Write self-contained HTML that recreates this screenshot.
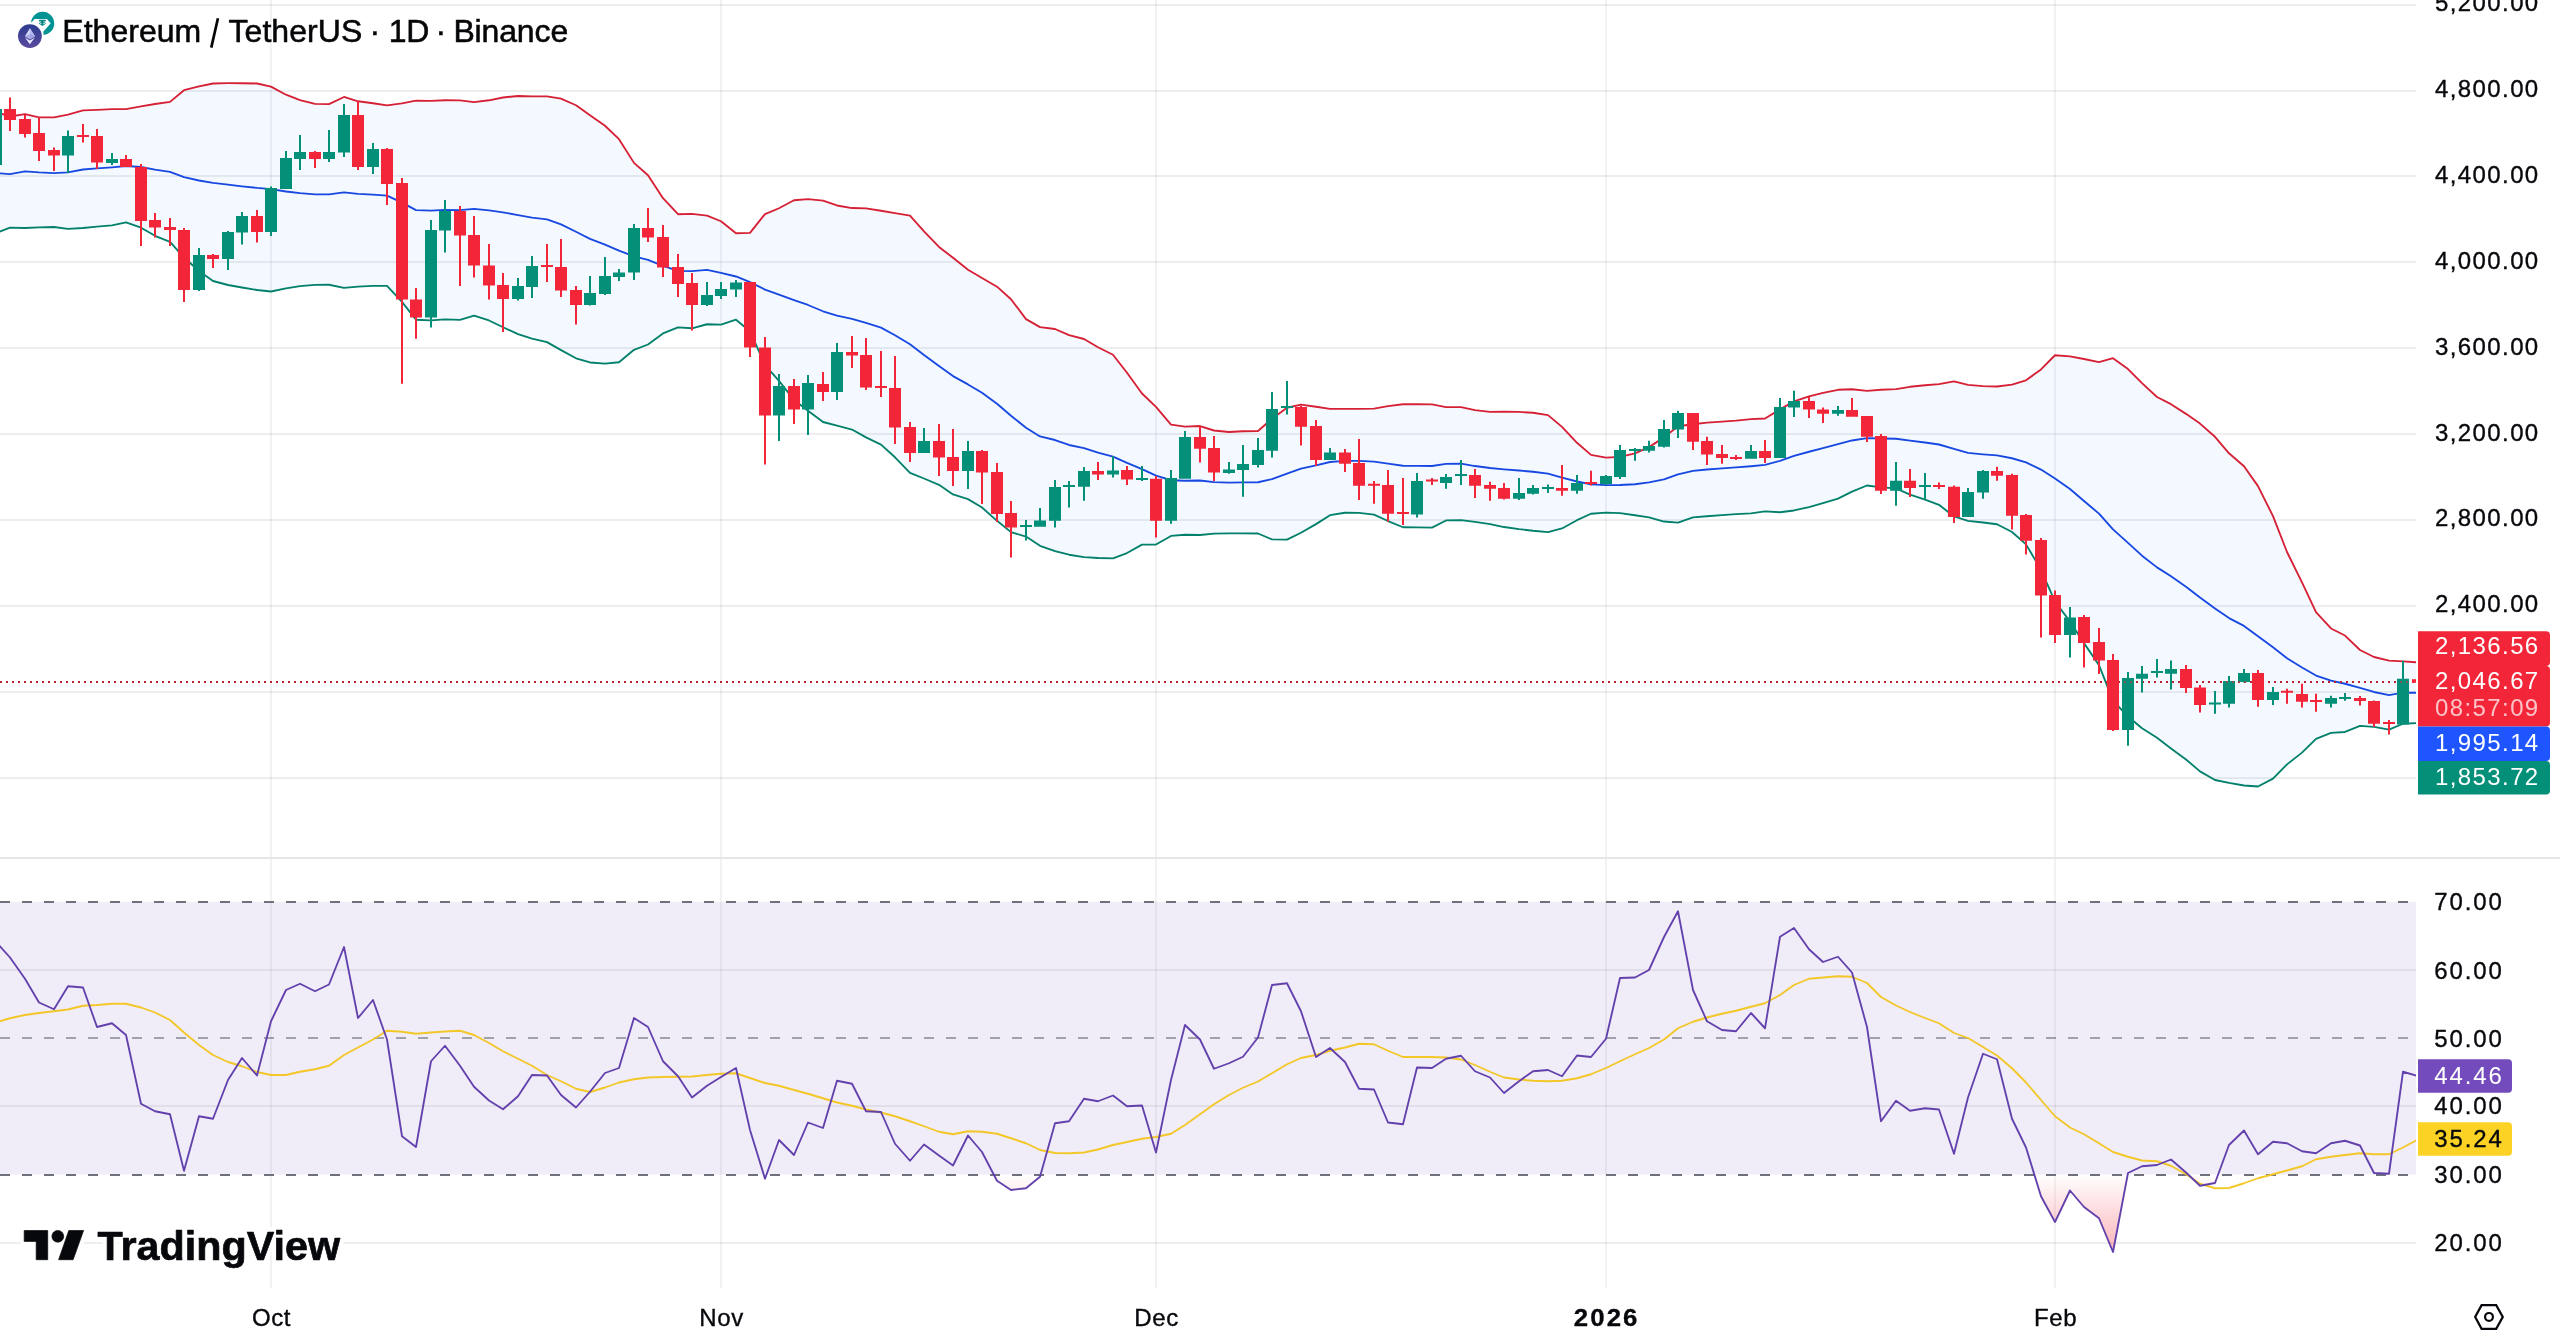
<!DOCTYPE html>
<html><head><meta charset="utf-8"><title>ETHUSDT chart</title>
<style>html,body{margin:0;padding:0;background:#fff}body{width:2560px;height:1336px;overflow:hidden}svg{display:block;will-change:transform}text{font-family:"Liberation Sans",sans-serif}</style>
</head><body>
<svg width="2560" height="1336" viewBox="0 0 2560 1336">
<defs>
<clipPath id="plot"><rect x="0" y="0" width="2416" height="857"/></clipPath>
<clipPath id="rplot"><rect x="0" y="859" width="2416" height="429"/></clipPath>
<clipPath id="below30"><rect x="0" y="1174.5" width="2416" height="120"/></clipPath>
<clipPath id="above70"><rect x="0" y="859" width="2416" height="42.75"/></clipPath>
<linearGradient id="os" gradientUnits="userSpaceOnUse" x1="0" y1="1174.5" x2="0" y2="1379"><stop offset="0" stop-color="#F23645" stop-opacity="0"/><stop offset="1" stop-color="#F23645" stop-opacity="1"/></linearGradient>
<linearGradient id="eth" x1="0" y1="0" x2="0" y2="1"><stop offset="0" stop-color="#2B3C8F"/><stop offset="1" stop-color="#5B4A9E"/></linearGradient>
</defs>
<rect width="2560" height="1336" fill="#fff"/>
<g stroke="#000" stroke-opacity="0.067" stroke-width="2" shape-rendering="crispEdges">
<line x1="0" y1="5" x2="2416" y2="5"/>
<line x1="0" y1="91" x2="2416" y2="91"/>
<line x1="0" y1="176" x2="2416" y2="176"/>
<line x1="0" y1="262" x2="2416" y2="262"/>
<line x1="0" y1="348" x2="2416" y2="348"/>
<line x1="0" y1="434" x2="2416" y2="434"/>
<line x1="0" y1="520" x2="2416" y2="520"/>
<line x1="0" y1="606" x2="2416" y2="606"/>
<line x1="0" y1="692" x2="2416" y2="692"/>
<line x1="0" y1="778" x2="2416" y2="778"/>
<line x1="271" y1="0" x2="271" y2="1288" stroke-opacity="0.05"/>
<line x1="721" y1="0" x2="721" y2="1288" stroke-opacity="0.05"/>
<line x1="1156" y1="0" x2="1156" y2="1288" stroke-opacity="0.05"/>
<line x1="1606" y1="0" x2="1606" y2="1288" stroke-opacity="0.05"/>
<line x1="2055" y1="0" x2="2055" y2="1288" stroke-opacity="0.05"/>
<line x1="0" y1="970" x2="2416" y2="970"/>
<line x1="0" y1="1106" x2="2416" y2="1106"/>
<line x1="0" y1="1243" x2="2416" y2="1243"/>
</g>
<rect x="0" y="857" width="2560" height="2" fill="#E6E6E6"/>
<g clip-path="url(#plot)">
<polygon points="-19,109 -4,112 10,116.5 25,114.2 39,117.4 54,117.4 68,114.7 83,110.4 97,109.8 112,109.1 126,109.1 141,106.4 155,104 170,101.9 184,90.2 199,86.4 213,83.5 228,83.2 242,83.2 257,83.5 271,86.68 286,94.72 300,100.12 315,103.94 329,104.09 344,96.99 358,101.29 373,103.22 387,105.33 402,103.43 416,100.62 431,100.82 445,100.27 460,100.32 474,102.18 489,100.29 503,97.49 518,96.01 532,96.45 547,96.43 561,98.69 576,105.25 590,115.18 605,125.71 619,139.15 634,162.88 648,175.25 663,198.17 678,214.21 692,213.88 707,215.64 721,221.25 736,233.25 750,232.92 765,214.1 779,208.27 794,200.29 808,199.12 823,200.56 837,205.48 852,208.04 866,208.45 881,210.73 895,213.15 910,215.55 924,231.29 939,246.97 953,257.74 968,269.75 982,278.08 997,286.68 1011,299.2 1026,319.08 1040,327.13 1055,329.02 1069,335.22 1084,339 1098,347.26 1113,354.72 1127,372.79 1142,393.47 1156,406.87 1171,424.54 1185,426.68 1200,426.01 1214,430.5 1229,431.98 1243,431.22 1258,431.04 1272,418.78 1287,407.77 1301,404.57 1316,406.71 1330,408.85 1345,408.92 1359,408.89 1374,408.67 1388,406.15 1403,404.29 1417,404.29 1432,404.31 1446,407.15 1461,407.12 1475,410.16 1490,411.91 1504,411.66 1519,411.92 1533,412.72 1548,415.1 1562,426.89 1577,442.82 1591,454.92 1606,457.6 1620,456.87 1635,453.31 1649,447.14 1664,437.39 1678,426.29 1693,424.28 1707,422.69 1722,421.59 1736,420.68 1751,419.1 1765,418.46 1780,409.37 1794,401.36 1809,396.4 1823,392.95 1838,389.78 1852,389.28 1867,390.83 1881,389.72 1896,389.19 1910,386.79 1925,385.29 1939,384.15 1954,381.31 1968,384.89 1983,386.11 1997,386.53 2012,384.55 2026,380.34 2041,369.4 2055,355.27 2070,356.4 2084,358.99 2099,362.08 2113,358.16 2128,369.11 2142,383.15 2157,396.95 2171,404.19 2186,413.86 2200,423.6 2215,436.79 2229,453.29 2244,466.28 2258,486.11 2273,516.11 2287,552.01 2302,582.35 2316,612.2 2331,628.45 2345,635.55 2360,650.04 2374,657 2389,660.68 2403,661.41 2418,662.4 2418,723 2403,723.74 2389,729.59 2374,726.95 2360,725.83 2345,731.97 2331,732.88 2316,738.88 2302,752.63 2287,764.36 2273,778.59 2258,786.49 2244,785.52 2229,782.91 2215,779.98 2200,771.42 2186,759.47 2171,748.41 2157,737.82 2142,728.2 2128,716.54 2113,700.69 2099,665.15 2084,643.14 2070,621.53 2055,601.6 2041,569.77 2026,544.38 2012,531.97 1997,524.22 1983,522.52 1968,520.81 1954,516.49 1939,504.85 1925,499.64 1910,494.54 1896,488.33 1881,487.33 1867,485.5 1852,491.67 1838,498.57 1823,503.1 1809,507.08 1794,510.47 1780,512.23 1765,511.31 1751,513.45 1736,514.17 1722,515.08 1707,516.29 1693,517.34 1678,522.56 1664,521.53 1649,517.46 1635,515.26 1620,513.18 1606,512.7 1591,513.78 1577,520.21 1562,528.44 1548,532.05 1533,530.73 1519,529.13 1504,527.04 1490,524.16 1475,521.92 1461,520.08 1446,520.45 1432,527.67 1417,527.38 1403,527.24 1388,521.03 1374,514.58 1359,512.88 1345,512.78 1330,515.17 1316,524.11 1301,532.76 1287,539.63 1272,539.42 1258,533.51 1243,533.43 1229,533.37 1214,533.65 1200,534.99 1185,534.74 1171,535.94 1156,544.56 1142,544.63 1127,553.06 1113,558.38 1098,557.99 1084,557.1 1069,554.73 1055,551.03 1040,545.77 1026,536.52 1011,532.15 997,520.82 982,507.52 968,499.1 953,494.41 939,484.83 924,478.51 910,472.95 895,457.3 881,444.57 866,437.4 852,429.56 837,425.62 823,421.99 808,410.83 794,399.96 779,380.93 765,365.05 750,331.23 736,319.7 721,324.55 707,324.26 692,328.27 678,327.39 663,333.43 648,344.5 634,349.82 619,362.25 605,363.64 590,362.47 576,358.3 561,350.16 547,342.17 532,338.7 518,334.14 503,327.26 489,320.46 474,315.52 460,319.83 445,319.33 431,320.43 416,319.73 402,301.87 387,285.92 373,285.88 358,286.61 344,287.81 329,284.76 315,284.81 300,286.13 286,288.33 271,291.47 257,290 242,287.5 228,285 213,281 199,271 184,257.5 170,241.8 155,235.8 141,227.7 126,222.3 112,225.3 97,226.6 83,228 68,228.8 54,227 39,227.4 25,228 10,227.7 -4,233 -19,238" fill="#2196F3" fill-opacity="0.055"/>
<polyline points="-19,172.6 -4,173.1 10,174.2 25,171.3 39,172.4 54,173.1 68,172.4 83,169.5 97,168.4 112,167.3 126,166 141,167 155,169.7 170,171.8 184,177.1 199,180.5 213,182.9 228,184.6 242,186.3 257,187.9 271,189.07 286,191.53 300,193.12 315,194.38 329,194.43 344,192.4 358,193.95 373,194.55 387,195.62 402,202.65 416,210.18 431,210.62 445,209.8 460,210.07 474,208.85 489,210.38 503,212.38 518,215.07 532,217.57 547,219.3 561,224.43 576,231.78 590,238.82 605,244.68 619,250.7 634,256.35 648,259.88 663,265.8 678,270.8 692,271.07 707,269.95 721,272.9 736,276.48 750,282.07 765,289.57 779,294.6 794,300.12 808,304.98 823,311.27 837,315.55 852,318.8 866,322.93 881,327.65 895,335.23 910,344.25 924,354.9 939,365.9 953,376.07 968,384.43 982,392.8 997,403.75 1011,415.68 1026,427.8 1040,436.45 1055,440.02 1069,444.98 1084,448.05 1098,452.62 1113,456.55 1127,462.93 1142,469.05 1156,475.71 1171,480.24 1185,480.71 1200,480.5 1214,482.07 1229,482.68 1243,482.32 1258,482.27 1272,479.1 1287,473.7 1301,468.66 1316,465.41 1330,462.01 1345,460.85 1359,460.89 1374,461.62 1388,463.59 1403,465.76 1417,465.84 1432,465.99 1446,463.8 1461,463.6 1475,466.04 1490,468.04 1504,469.35 1519,470.52 1533,471.73 1548,473.57 1562,477.66 1577,481.51 1591,484.35 1606,485.15 1620,485.02 1635,484.29 1649,482.3 1664,479.46 1678,474.43 1693,470.81 1707,469.49 1722,468.34 1736,467.43 1751,466.27 1765,464.89 1780,460.8 1794,455.91 1809,451.74 1823,448.02 1838,444.18 1852,440.48 1867,438.16 1881,438.52 1896,438.76 1910,440.66 1925,442.46 1939,444.5 1954,448.9 1968,452.85 1983,454.31 1997,455.38 2012,458.26 2026,462.36 2041,469.59 2055,478.44 2070,488.96 2084,501.06 2099,513.61 2113,529.42 2128,542.83 2142,555.67 2157,567.39 2171,576.3 2186,586.66 2200,597.51 2215,608.39 2229,618.1 2244,625.9 2258,636.3 2273,647.35 2287,658.19 2302,667.49 2316,675.54 2331,680.66 2345,683.76 2360,687.94 2374,691.98 2389,695.14 2403,692.58 2418,692.8" fill="none" stroke="#1848E2" stroke-width="1.85" stroke-linejoin="round"/>
<polyline points="-19,109 -4,112 10,116.5 25,114.2 39,117.4 54,117.4 68,114.7 83,110.4 97,109.8 112,109.1 126,109.1 141,106.4 155,104 170,101.9 184,90.2 199,86.4 213,83.5 228,83.2 242,83.2 257,83.5 271,86.68 286,94.72 300,100.12 315,103.94 329,104.09 344,96.99 358,101.29 373,103.22 387,105.33 402,103.43 416,100.62 431,100.82 445,100.27 460,100.32 474,102.18 489,100.29 503,97.49 518,96.01 532,96.45 547,96.43 561,98.69 576,105.25 590,115.18 605,125.71 619,139.15 634,162.88 648,175.25 663,198.17 678,214.21 692,213.88 707,215.64 721,221.25 736,233.25 750,232.92 765,214.1 779,208.27 794,200.29 808,199.12 823,200.56 837,205.48 852,208.04 866,208.45 881,210.73 895,213.15 910,215.55 924,231.29 939,246.97 953,257.74 968,269.75 982,278.08 997,286.68 1011,299.2 1026,319.08 1040,327.13 1055,329.02 1069,335.22 1084,339 1098,347.26 1113,354.72 1127,372.79 1142,393.47 1156,406.87 1171,424.54 1185,426.68 1200,426.01 1214,430.5 1229,431.98 1243,431.22 1258,431.04 1272,418.78 1287,407.77 1301,404.57 1316,406.71 1330,408.85 1345,408.92 1359,408.89 1374,408.67 1388,406.15 1403,404.29 1417,404.29 1432,404.31 1446,407.15 1461,407.12 1475,410.16 1490,411.91 1504,411.66 1519,411.92 1533,412.72 1548,415.1 1562,426.89 1577,442.82 1591,454.92 1606,457.6 1620,456.87 1635,453.31 1649,447.14 1664,437.39 1678,426.29 1693,424.28 1707,422.69 1722,421.59 1736,420.68 1751,419.1 1765,418.46 1780,409.37 1794,401.36 1809,396.4 1823,392.95 1838,389.78 1852,389.28 1867,390.83 1881,389.72 1896,389.19 1910,386.79 1925,385.29 1939,384.15 1954,381.31 1968,384.89 1983,386.11 1997,386.53 2012,384.55 2026,380.34 2041,369.4 2055,355.27 2070,356.4 2084,358.99 2099,362.08 2113,358.16 2128,369.11 2142,383.15 2157,396.95 2171,404.19 2186,413.86 2200,423.6 2215,436.79 2229,453.29 2244,466.28 2258,486.11 2273,516.11 2287,552.01 2302,582.35 2316,612.2 2331,628.45 2345,635.55 2360,650.04 2374,657 2389,660.68 2403,661.41 2418,662.4" fill="none" stroke="#D62035" stroke-width="1.85" stroke-linejoin="round"/>
<polyline points="-19,238 -4,233 10,227.7 25,228 39,227.4 54,227 68,228.8 83,228 97,226.6 112,225.3 126,222.3 141,227.7 155,235.8 170,241.8 184,257.5 199,271 213,281 228,285 242,287.5 257,290 271,291.47 286,288.33 300,286.13 315,284.81 329,284.76 344,287.81 358,286.61 373,285.88 387,285.92 402,301.87 416,319.73 431,320.43 445,319.33 460,319.83 474,315.52 489,320.46 503,327.26 518,334.14 532,338.7 547,342.17 561,350.16 576,358.3 590,362.47 605,363.64 619,362.25 634,349.82 648,344.5 663,333.43 678,327.39 692,328.27 707,324.26 721,324.55 736,319.7 750,331.23 765,365.05 779,380.93 794,399.96 808,410.83 823,421.99 837,425.62 852,429.56 866,437.4 881,444.57 895,457.3 910,472.95 924,478.51 939,484.83 953,494.41 968,499.1 982,507.52 997,520.82 1011,532.15 1026,536.52 1040,545.77 1055,551.03 1069,554.73 1084,557.1 1098,557.99 1113,558.38 1127,553.06 1142,544.63 1156,544.56 1171,535.94 1185,534.74 1200,534.99 1214,533.65 1229,533.37 1243,533.43 1258,533.51 1272,539.42 1287,539.63 1301,532.76 1316,524.11 1330,515.17 1345,512.78 1359,512.88 1374,514.58 1388,521.03 1403,527.24 1417,527.38 1432,527.67 1446,520.45 1461,520.08 1475,521.92 1490,524.16 1504,527.04 1519,529.13 1533,530.73 1548,532.05 1562,528.44 1577,520.21 1591,513.78 1606,512.7 1620,513.18 1635,515.26 1649,517.46 1664,521.53 1678,522.56 1693,517.34 1707,516.29 1722,515.08 1736,514.17 1751,513.45 1765,511.31 1780,512.23 1794,510.47 1809,507.08 1823,503.1 1838,498.57 1852,491.67 1867,485.5 1881,487.33 1896,488.33 1910,494.54 1925,499.64 1939,504.85 1954,516.49 1968,520.81 1983,522.52 1997,524.22 2012,531.97 2026,544.38 2041,569.77 2055,601.6 2070,621.53 2084,643.14 2099,665.15 2113,700.69 2128,716.54 2142,728.2 2157,737.82 2171,748.41 2186,759.47 2200,771.42 2215,779.98 2229,782.91 2244,785.52 2258,786.49 2273,778.59 2287,764.36 2302,752.63 2316,738.88 2331,732.88 2345,731.97 2360,725.83 2374,726.95 2389,729.59 2403,723.74 2418,723" fill="none" stroke="#02806B" stroke-width="1.85" stroke-linejoin="round"/>
<line x1="0" y1="682" x2="2416" y2="682" stroke="#B8232F" stroke-width="2" stroke-dasharray="2 4"/>
<path d="M-5 100h2V170h-2zM-10 109h12v56h-12zM67 130.5h2V173h-2zM62 136h12v19.5h-12zM111 153h2V165h-2zM106 159h12v4h-12zM198 248h2V291h-2zM193 255h12v35h-12zM227 231h2V270h-2zM222 232h12v27h-12zM241 212h2V244.5h-2zM236 216h12v16.5h-12zM270 186.5h2V236h-2zM265 188h12v44h-12zM285 151h2V189h-2zM280 158h12v31h-12zM299 135h2V170h-2zM294 152h12v7h-12zM328 130h2V162h-2zM323 152h12v7h-12zM343 104h2V157h-2zM338 115h12v37.5h-12zM372 143h2V174h-2zM367 149h12v18h-12zM430 220h2V327.5h-2zM425 230h12v87.5h-12zM444 200h2V252.5h-2zM439 211h12v19.5h-12zM517 278h2V300.5h-2zM512 286h12v13h-12zM531 256h2V298h-2zM526 266h12v21h-12zM589 276h2V305.5h-2zM584 293h12v12h-12zM604 257h2V295h-2zM599 276h12v18h-12zM618 269h2V281h-2zM613 272.5h12v4.5h-12zM633 224h2V280h-2zM628 228h12v44.5h-12zM706 282h2V306h-2zM701 295h12v10h-12zM720 282h2V299h-2zM715 289h12v7h-12zM735 280h2V297h-2zM730 282.5h12v7h-12zM778 374h2V441h-2zM773 386h12v29.5h-12zM807 375h2V435h-2zM802 383h12v26.5h-12zM836 343h2V400h-2zM831 352h12v40h-12zM923 428h2V453h-2zM918 441h12v12h-12zM967 441h2V489h-2zM962 451h12v20h-12zM1025 520h2V540.5h-2zM1020 525h12v2h-12zM1039 508h2V526.75h-2zM1034 520.5h12v6.25h-12zM1054 480h2V527.5h-2zM1049 487h12v33.75h-12zM1068 481h2V507.5h-2zM1063 485h12v2h-12zM1083 467h2V500.75h-2zM1078 471h12v15.75h-12zM1112 456h2V477.5h-2zM1107 470.5h12v4h-12zM1141 466h2V481h-2zM1136 478h12v2h-12zM1170 470h2V523.75h-2zM1165 478h12v42.75h-12zM1184 431h2V478.75h-2zM1179 437h12v41.75h-12zM1228 462h2V473.75h-2zM1223 469.5h12v3.5h-12zM1242 445h2V496.75h-2zM1237 464h12v6h-12zM1257 438h2V467.5h-2zM1252 450h12v15h-12zM1271 392h2V457.5h-2zM1266 409h12v41.75h-12zM1286 381h2V414.5h-2zM1281 406h12v2h-12zM1329 448h2V460h-2zM1324 452.5h12v7.5h-12zM1416 473h2V517.5h-2zM1411 481h12v33.5h-12zM1445 474h2V488.75h-2zM1440 477h12v6h-12zM1460 460h2V485h-2zM1455 474h12v2h-12zM1518 478h2V500h-2zM1513 493h12v5.75h-12zM1532 485h2V494.5h-2zM1527 488h12v5.75h-12zM1547 484.5h2V493h-2zM1542 487h12v2h-12zM1576 475h2V493.75h-2zM1571 483h12v7.75h-12zM1605 475h2V485h-2zM1600 476h12v8h-12zM1619 445h2V479h-2zM1614 450h12v27h-12zM1634 448h2V460.75h-2zM1629 449h12v2h-12zM1648 440.75h2V452.5h-2zM1643 446h12v4.75h-12zM1663 420h2V447.5h-2zM1658 429h12v17.75h-12zM1677 410.75h2V438h-2zM1672 413h12v16.5h-12zM1750 445h2V458.75h-2zM1745 451h12v7.75h-12zM1779 398h2V458h-2zM1774 407h12v51h-12zM1793 390.75h2V417h-2zM1788 401h12v6.5h-12zM1837 406h2V415.75h-2zM1832 410h12v3.75h-12zM1895 462h2V505.75h-2zM1890 480.75h12v10h-12zM1924 473h2V499.5h-2zM1919 485h12v2h-12zM1967 488h2V517h-2zM1962 492h12v25h-12zM1982 470h2V498.75h-2zM1977 471h12v21.5h-12zM2069 607h2V657.5h-2zM2064 617.5h12v17.5h-12zM2127 672h2V745.75h-2zM2122 678h12v52h-12zM2141 666h2V692.5h-2zM2136 673.75h12v5h-12zM2156 659h2V677.5h-2zM2151 671h12v2h-12zM2170 660.5h2V689.5h-2zM2165 669h12v4.75h-12zM2214 691h2V713.75h-2zM2209 702.5h12v2h-12zM2228 676h2V707.5h-2zM2223 681h12v22.75h-12zM2243 669h2V682.5h-2zM2238 673h12v9h-12zM2272 687h2V705h-2zM2267 692h12v8h-12zM2330 695.75h2V707.5h-2zM2325 698h12v5.75h-12zM2344 693h2V700.75h-2zM2339 697h12v2h-12zM2402 660.75h2V724.5h-2zM2397 678.75h12v45.75h-12z" fill="#048F78"/>
<path d="M9 97.5h2V131h-2zM4 109h12v11h-12zM24 115h2V137.5h-2zM19 119h12v15h-12zM38 117.5h2V161h-2zM33 133h12v18h-12zM53 147.5h2V171h-2zM48 150h12v5.5h-12zM82 124h2V142.5h-2zM77 135h12v2h-12zM96 129h2V169h-2zM91 136h12v26.5h-12zM125 155h2V167h-2zM120 159h12v8h-12zM140 164h2V246h-2zM135 167h12v54h-12zM154 213h2V237.5h-2zM149 220h12v7.5h-12zM169 218h2V246h-2zM164 227h12v3h-12zM183 228h2V302h-2zM178 230h12v60h-12zM212 254h2V268h-2zM207 255h12v4h-12zM256 210h2V242.5h-2zM251 216h12v16h-12zM314 151h2V168h-2zM309 152h12v7h-12zM357 101h2V170h-2zM352 115h12v52h-12zM386 148h2V205h-2zM381 149h12v35h-12zM401 178h2V383.75h-2zM396 183h12v116.5h-12zM415 288h2V338.75h-2zM410 299.5h12v18h-12zM459 206h2V286h-2zM454 211h12v24.5h-12zM473 216h2V277.5h-2zM468 235h12v30.5h-12zM488 244h2V299.5h-2zM483 265.5h12v20h-12zM502 273h2V332h-2zM497 285h12v14h-12zM546 244h2V282h-2zM541 265h12v2h-12zM560 239h2V297h-2zM555 267h12v23.5h-12zM575 286h2V324.5h-2zM570 290h12v15h-12zM647 208h2V242h-2zM642 228h12v9.5h-12zM662 225h2V277h-2zM657 237h12v30.5h-12zM677 254h2V297h-2zM672 267h12v17h-12zM691 273h2V330.5h-2zM686 283h12v22h-12zM749 282h2V357h-2zM744 282h12v65.5h-12zM764 337h2V464.5h-2zM759 347.5h12v68h-12zM793 379h2V424h-2zM788 386h12v23.5h-12zM822 372h2V401h-2zM817 384h12v8h-12zM851 336h2V368h-2zM846 352h12v3.5h-12zM865 338h2V390h-2zM860 355h12v32.5h-12zM880 351h2V397h-2zM875 386h12v2h-12zM894 356h2V444h-2zM889 388h12v39.5h-12zM909 422h2V462h-2zM904 427h12v26h-12zM938 424h2V476h-2zM933 441h12v16.5h-12zM952 429h2V486h-2zM947 457h12v14h-12zM981 450h2V504h-2zM976 451h12v21.5h-12zM996 463h2V522h-2zM991 472h12v42h-12zM1010 501h2V557.5h-2zM1005 513h12v14.5h-12zM1097 462h2V480h-2zM1092 471h12v3.5h-12zM1126 466h2V485h-2zM1121 470h12v9.5h-12zM1155 476h2V537.5h-2zM1150 478.75h12v42h-12zM1199 426h2V462.5h-2zM1194 437h12v11.75h-12zM1213 436h2V481h-2zM1208 448h12v24.5h-12zM1300 406h2V445.5h-2zM1295 407h12v19.75h-12zM1315 420h2V466h-2zM1310 426h12v34h-12zM1344 449h2V472h-2zM1339 452.5h12v11.25h-12zM1358 439h2V500h-2zM1353 463h12v22.75h-12zM1373 481h2V503.75h-2zM1368 483.75h12v2h-12zM1387 470h2V521.75h-2zM1382 485h12v28.75h-12zM1402 478h2V525h-2zM1397 512h12v2h-12zM1431 478h2V485h-2zM1426 479.5h12v2h-12zM1474 469h2V498h-2zM1469 475h12v10.75h-12zM1489 481.75h2V500.75h-2zM1484 485h12v3.75h-12zM1503 483h2V499.5h-2zM1498 488h12v10.75h-12zM1561 465h2V495.75h-2zM1556 488h12v2.75h-12zM1590 470.75h2V485.5h-2zM1585 482h12v2h-12zM1692 413h2V450h-2zM1687 413h12v28.75h-12zM1706 436.75h2V465h-2zM1701 441h12v13.5h-12zM1721 445h2V463.75h-2zM1716 454h12v4h-12zM1735 455h2V460h-2zM1730 457h12v2h-12zM1764 440h2V463h-2zM1759 451h12v7h-12zM1808 397h2V418h-2zM1803 401h12v8.5h-12zM1822 407.5h2V423h-2zM1817 409.5h12v4.25h-12zM1851 398h2V416.75h-2zM1846 410h12v6.75h-12zM1866 416h2V442h-2zM1861 416h12v20.75h-12zM1880 434h2V494h-2zM1875 436h12v54.75h-12zM1909 469h2V497h-2zM1904 480.75h12v7.25h-12zM1938 482.5h2V489h-2zM1933 485h12v2h-12zM1953 485.5h2V523h-2zM1948 486.75h12v30.25h-12zM1996 466.75h2V480.75h-2zM1991 471h12v4.75h-12zM2011 473.75h2V529.5h-2zM2006 475h12v40.75h-12zM2025 514h2V554.5h-2zM2020 515h12v25.75h-12zM2040 538h2V637.5h-2zM2035 540h12v55.5h-12zM2054 590.5h2V643h-2zM2049 595h12v40h-12zM2083 615h2V667.5h-2zM2078 617h12v26h-12zM2098 628h2V674h-2zM2093 642h12v18.5h-12zM2112 654h2V731h-2zM2107 660h12v70h-12zM2185 665h2V693h-2zM2180 669h12v19h-12zM2199 685h2V712.5h-2zM2194 687.5h12v17.5h-12zM2257 670h2V706.75h-2zM2252 673h12v27h-12zM2286 688.75h2V703.75h-2zM2281 690.75h12v2h-12zM2301 683.75h2V707.5h-2zM2296 694h12v7.75h-12zM2315 693.75h2V711.75h-2zM2310 700h12v2h-12zM2359 696h2V705.5h-2zM2354 698h12v3h-12zM2373 700.5h2V727h-2zM2368 701h12v22.75h-12zM2388 720h2V734.5h-2zM2383 722h12v2h-12z" fill="#F22638"/>
<rect x="2412" y="679.2" width="6" height="3.6" fill="#F22638"/>
<clipPath id="xb"><path d="M2107 660h12v70h-12zM2122 678h12v52h-12zM2180 669h12v19h-12zM2223 681h12v22.75h-12zM2238 673h12v9h-12zM2252 673h12v27h-12zM2397 678.75h12v45.75h-12z"/></clipPath>
<line clip-path="url(#xb)" x1="0" y1="682" x2="2416" y2="682" stroke="#F22638" stroke-opacity="0.5" stroke-width="2" stroke-dasharray="2 4"/>
</g>
<g clip-path="url(#rplot)">
<rect x="0" y="901.75" width="2416" height="272.75" fill="#7E57C2" fill-opacity="0.115"/>
<polygon clip-path="url(#below30)" points="-19,926.5 -4,942 10,957.5 25,978.75 39,1002.5 54,1009.25 68,986.25 83,987.5 97,1027 112,1023.25 126,1035 141,1103.75 155,1111.25 170,1114.25 184,1170.75 199,1116.25 213,1118.75 228,1080 242,1058 257,1075.5 271,1021.25 286,990 300,983.75 315,991.25 329,984.5 344,947 358,1018 373,1000 387,1039.5 402,1136.25 416,1147 431,1061.25 445,1045.75 460,1065.75 474,1086.75 489,1100.5 503,1109.25 518,1096.25 532,1075 547,1075.5 561,1095 576,1107.5 590,1091.75 605,1073 619,1068 634,1018 648,1027 663,1061.25 678,1076.25 692,1097.5 707,1085.75 721,1077 736,1068 750,1130 765,1178.75 779,1140 794,1155 808,1122.5 823,1128 837,1080.75 852,1083.75 866,1111.25 881,1112 895,1143.75 910,1160.75 924,1144.5 939,1155.5 953,1165.5 968,1135.5 982,1152 997,1180.75 1011,1190 1026,1188.25 1040,1176.75 1055,1123.25 1069,1121.25 1084,1098.75 1098,1101.25 1113,1095.5 1127,1106.25 1142,1105.5 1156,1152.5 1171,1080 1185,1025 1200,1039.5 1214,1068.75 1229,1063.25 1243,1056.75 1258,1037.5 1272,985 1287,983.25 1301,1011.25 1316,1057 1330,1048 1345,1062 1359,1088.75 1374,1089.5 1388,1122.5 1403,1124.25 1417,1067.5 1432,1068 1446,1058.75 1461,1055.75 1475,1071.25 1490,1077.5 1504,1093 1519,1081.25 1533,1071.25 1548,1070 1562,1076.25 1577,1055.5 1591,1057 1606,1038.75 1620,978 1635,977.5 1649,970 1664,937 1678,911.25 1693,990 1707,1021.25 1722,1030 1736,1031.25 1751,1013 1765,1028.25 1780,936.75 1794,928 1809,949.25 1823,962 1838,956.75 1852,972.5 1867,1027 1881,1121.25 1896,1100.75 1910,1110.75 1925,1108.25 1939,1109.5 1954,1153.75 1968,1097.5 1983,1053.75 1997,1059.25 2012,1118.75 2026,1147.5 2041,1196.25 2055,1222 2070,1190.5 2084,1207 2099,1218.25 2113,1252 2128,1173 2142,1166.25 2157,1165 2171,1159.5 2186,1172.5 2200,1185.75 2215,1183 2229,1145 2244,1130.5 2258,1154.25 2273,1141.75 2287,1143.25 2302,1151.25 2316,1153.25 2331,1143.25 2345,1140.75 2360,1145.5 2374,1173 2389,1173.75 2403,1071.75 2418,1076 2418,1174.5 -19,1174.5" fill="url(#os)"/>
<g stroke-width="2" stroke-dasharray="10 12" fill="none">
<line x1="0" y1="902" x2="2416" y2="902" stroke="#6F727D"/>
<line x1="0" y1="1038" x2="2416" y2="1038" stroke="#6F727D" stroke-opacity="0.62"/>
<line x1="0" y1="1175" x2="2416" y2="1175" stroke="#6F727D"/>
</g>
<polyline points="-19,1026.75 -4,1022.5 10,1018.25 25,1015 39,1013 54,1011.25 68,1009.5 83,1005.75 97,1005 112,1003.75 126,1003.75 141,1007.5 155,1012.5 170,1020 184,1032.5 199,1045 213,1055 228,1062 242,1066.25 257,1072 271,1075 286,1075 300,1071.75 315,1069.25 329,1065.75 344,1055 358,1047.5 373,1039.5 387,1030.75 402,1031.75 416,1033.75 431,1032.5 445,1031.5 460,1030.75 474,1035 489,1043 503,1051.25 518,1058.75 532,1065.75 547,1075 561,1081.25 576,1088.75 590,1092 605,1087.5 619,1082.5 634,1079.25 648,1077.5 663,1077 678,1076.75 692,1076.5 707,1075 721,1073.75 736,1073.25 750,1078 765,1083 779,1085.75 794,1090 808,1093.75 823,1098.25 837,1102.5 852,1105.75 866,1109.5 881,1112.5 895,1116.25 910,1121.25 924,1126.25 939,1131.75 953,1134.25 968,1131.25 982,1131.75 997,1133.75 1011,1138.25 1026,1143.25 1040,1150 1055,1153 1069,1153.25 1084,1152.5 1098,1149.5 1113,1145 1127,1142 1142,1138.75 1156,1137 1171,1133.75 1185,1125 1200,1114.25 1214,1104.25 1229,1095 1243,1087.75 1258,1081.5 1272,1073.25 1287,1064.25 1301,1058 1316,1055 1330,1050.75 1345,1047.5 1359,1043.75 1374,1044.25 1388,1050.75 1403,1057 1417,1057 1432,1057 1446,1057.5 1461,1059.5 1475,1065 1490,1071.75 1504,1077.5 1519,1079.5 1533,1080.75 1548,1081.25 1562,1080.75 1577,1078.25 1591,1074.25 1606,1068 1620,1061.25 1635,1054.25 1649,1048 1664,1039.5 1678,1028.25 1693,1021.75 1707,1017.5 1722,1013.75 1736,1010.75 1751,1006.75 1765,1003.25 1780,995 1794,985 1809,978.75 1823,977.5 1838,976.25 1852,976.75 1867,983 1881,997 1896,1005.5 1910,1012 1925,1018 1939,1023.25 1954,1033 1968,1038 1983,1047 1997,1055.5 2012,1068.25 2026,1082.5 2041,1100 2055,1116.25 2070,1127.5 2084,1134.25 2099,1143.25 2113,1152 2128,1156.75 2142,1160.5 2157,1161.25 2171,1165.75 2186,1174.25 2200,1183.75 2215,1188.25 2229,1188 2244,1183.25 2258,1178.25 2273,1174.25 2287,1170.5 2302,1166.25 2316,1159.25 2331,1156.75 2345,1155 2360,1153.25 2374,1154.25 2389,1154.25 2403,1147.5 2418,1139.5" fill="none" stroke="#F3C728" stroke-width="1.85" stroke-linejoin="round"/>
<polyline points="-19,926.5 -4,942 10,957.5 25,978.75 39,1002.5 54,1009.25 68,986.25 83,987.5 97,1027 112,1023.25 126,1035 141,1103.75 155,1111.25 170,1114.25 184,1170.75 199,1116.25 213,1118.75 228,1080 242,1058 257,1075.5 271,1021.25 286,990 300,983.75 315,991.25 329,984.5 344,947 358,1018 373,1000 387,1039.5 402,1136.25 416,1147 431,1061.25 445,1045.75 460,1065.75 474,1086.75 489,1100.5 503,1109.25 518,1096.25 532,1075 547,1075.5 561,1095 576,1107.5 590,1091.75 605,1073 619,1068 634,1018 648,1027 663,1061.25 678,1076.25 692,1097.5 707,1085.75 721,1077 736,1068 750,1130 765,1178.75 779,1140 794,1155 808,1122.5 823,1128 837,1080.75 852,1083.75 866,1111.25 881,1112 895,1143.75 910,1160.75 924,1144.5 939,1155.5 953,1165.5 968,1135.5 982,1152 997,1180.75 1011,1190 1026,1188.25 1040,1176.75 1055,1123.25 1069,1121.25 1084,1098.75 1098,1101.25 1113,1095.5 1127,1106.25 1142,1105.5 1156,1152.5 1171,1080 1185,1025 1200,1039.5 1214,1068.75 1229,1063.25 1243,1056.75 1258,1037.5 1272,985 1287,983.25 1301,1011.25 1316,1057 1330,1048 1345,1062 1359,1088.75 1374,1089.5 1388,1122.5 1403,1124.25 1417,1067.5 1432,1068 1446,1058.75 1461,1055.75 1475,1071.25 1490,1077.5 1504,1093 1519,1081.25 1533,1071.25 1548,1070 1562,1076.25 1577,1055.5 1591,1057 1606,1038.75 1620,978 1635,977.5 1649,970 1664,937 1678,911.25 1693,990 1707,1021.25 1722,1030 1736,1031.25 1751,1013 1765,1028.25 1780,936.75 1794,928 1809,949.25 1823,962 1838,956.75 1852,972.5 1867,1027 1881,1121.25 1896,1100.75 1910,1110.75 1925,1108.25 1939,1109.5 1954,1153.75 1968,1097.5 1983,1053.75 1997,1059.25 2012,1118.75 2026,1147.5 2041,1196.25 2055,1222 2070,1190.5 2084,1207 2099,1218.25 2113,1252 2128,1173 2142,1166.25 2157,1165 2171,1159.5 2186,1172.5 2200,1185.75 2215,1183 2229,1145 2244,1130.5 2258,1154.25 2273,1141.75 2287,1143.25 2302,1151.25 2316,1153.25 2331,1143.25 2345,1140.75 2360,1145.5 2374,1173 2389,1173.75 2403,1071.75 2418,1076" fill="none" stroke="#6341AC" stroke-width="1.85" stroke-linejoin="round"/>
</g>
<g font-size="24" fill="#07080c" stroke="#07080c" stroke-width="0.35" letter-spacing="1.4">
<text x="2435" y="11.23">5,200.00</text>
<text x="2435" y="97.1">4,800.00</text>
<text x="2435" y="182.97">4,400.00</text>
<text x="2435" y="268.84">4,000.00</text>
<text x="2435" y="354.71">3,600.00</text>
<text x="2435" y="440.58">3,200.00</text>
<text x="2435" y="526.45">2,800.00</text>
<text x="2435" y="612.32">2,400.00</text>
<text x="2434.2" y="910.25" letter-spacing="1.9">70.00</text>
<text x="2434.2" y="978.5" letter-spacing="1.9">60.00</text>
<text x="2434.2" y="1046.5" letter-spacing="1.9">50.00</text>
<text x="2434.2" y="1114" letter-spacing="1.9">40.00</text>
<text x="2434.2" y="1183" letter-spacing="1.9">30.00</text>
<text x="2434.2" y="1251" letter-spacing="1.9">20.00</text>
</g>
<path d="M2418 631.2 H2546 a4 4 0 0 1 4 4 V661.9 a4 4 0 0 1 -4 4 H2418z" fill="#F22638"/>
<path d="M2418 665.9 H2546 a4 4 0 0 1 4 4 V722.6 a4 4 0 0 1 -4 4 H2418z" fill="#F22638"/>
<path d="M2418 726.6 H2546 a4 4 0 0 1 4 4 V756.9 a4 4 0 0 1 -4 4 H2418z" fill="#1E55FF"/>
<path d="M2418 760.9 H2546 a4 4 0 0 1 4 4 V790.6 a4 4 0 0 1 -4 4 H2418z" fill="#048F78"/>
<path d="M2418 1059.2 H2508 a4 4 0 0 1 4 4 V1088.8 a4 4 0 0 1 -4 4 H2418z" fill="#734BBC"/>
<path d="M2418 1122.2 H2508 a4 4 0 0 1 4 4 V1151.8 a4 4 0 0 1 -4 4 H2418z" fill="#FCD324"/>
<g font-size="24" fill="#fff" letter-spacing="1.4">
<text x="2435" y="654.4">2,136.56</text>
<text x="2435" y="688.6">2,046.67</text>
<text x="2435" y="716.2" fill-opacity="0.72">08:57:09</text>
<text x="2435" y="751.2">1,995.14</text>
<text x="2435" y="784.9">1,853.72</text>
<text x="2434.2" y="1084" letter-spacing="1.9">44.46</text>
<text x="2434.2" y="1147" letter-spacing="1.9" fill="#07080c" stroke="#07080c" stroke-width="0.35">35.24</text>
</g>
<g font-size="24" fill="#07080c" stroke="#07080c" stroke-width="0.35" text-anchor="middle" letter-spacing="0.6">
<text x="271.5" y="1326">Oct</text>
<text x="721.5" y="1326">Nov</text>
<text x="1156.5" y="1326">Dec</text>
<text x="2055.5" y="1326">Feb</text>
<text x="1606.6" y="1326" font-weight="bold" letter-spacing="1.9" stroke="#050608" stroke-width="0.3" transform="translate(1606 0) scale(1.075 1) translate(-1606 0)">2026</text>
</g>
<g fill="none" stroke="#07080c" stroke-width="2.2" stroke-linejoin="miter">
<path d="M2475.2 1316.9 L2481.6 1305.2 H2496.2 L2502.8 1316.9 L2496.2 1328.8 H2481.6z"/>
<circle cx="2489" cy="1316.9" r="3.9"/>
</g>
<g>
<circle cx="42.6" cy="23.4" r="11.6" fill="#009393"/>
<path d="M34.6 18.9 H46.9 L50.7 23.3 L42.4 32.8 Q38 36 30 34 V24z" fill="#fff"/>
<path d="M39.1 19.7 h6.6 v1.7 h-2.35 v4.3 h-1.9 v-4.3 h-2.35z" fill="#00857F"/>
<ellipse cx="42.4" cy="23.5" rx="3.1" ry="1.0" fill="none" stroke="#00857F" stroke-width="0.9"/>
<circle cx="29.9" cy="36.1" r="13.9" fill="#fff"/>
<circle cx="29.9" cy="36.1" r="11.9" fill="url(#eth)"/>
<path d="M29.9 28.2 L24.9 36.3 L29.9 39.2 L34.9 36.3z" fill="#D5D9FB"/>
<path d="M29.9 28.2 V39.2 L34.9 36.3z" fill="#B4B9F1"/>
<path d="M24.9 37.5 L29.9 44.3 L34.9 37.5 L29.9 40.4z" fill="#E6E8FD"/>
<path d="M29.9 34 L24.9 36.3 L29.9 39.2 L34.9 36.3z" fill="#8F93DD" fill-opacity="0.6"/>
</g>
<text x="62.3" y="41.9" font-size="32" fill="#050608" stroke="#050608" stroke-width="0.55" letter-spacing="-0.14"><tspan letter-spacing="0.02">Ethereum</tspan><tspan dx="-0.2" fill="none" stroke="none"> /</tspan><tspan dx="1.6" letter-spacing="0.06"> TetherUS</tspan><tspan dx="-1.7"> ·</tspan><tspan> 1D</tspan><tspan dx="-2.5"> ·</tspan><tspan dx="-1.5"> Binance</tspan></text>
<line x1="211.25" y1="47.6" x2="217.95" y2="18.2" stroke="#050608" stroke-width="2.7"/>
<g fill="#fff" stroke="#fff" stroke-width="9" stroke-linejoin="round"><path d="M24.2 1230.5 H47.7 V1259.7 H36.2 V1241.4 H24.2z"/><circle cx="57.8" cy="1236.3" r="5.9"/><path d="M68.8 1230.5 H83.6 L73.1 1259.7 H58.6z"/><text x="97.6" y="1259.7" font-size="40.8" font-weight="bold" textLength="242.4" lengthAdjust="spacingAndGlyphs">TradingView</text></g>
<g fill="#07080c" stroke="#07080c" stroke-width="0.7" stroke-linejoin="round"><path d="M24.2 1230.5 H47.7 V1259.7 H36.2 V1241.4 H24.2z"/><circle cx="57.8" cy="1236.3" r="5.9"/><path d="M68.8 1230.5 H83.6 L73.1 1259.7 H58.6z"/><text x="97.6" y="1259.7" font-size="40.8" font-weight="bold" textLength="242.4" lengthAdjust="spacingAndGlyphs">TradingView</text></g>
</svg>
</body></html>
